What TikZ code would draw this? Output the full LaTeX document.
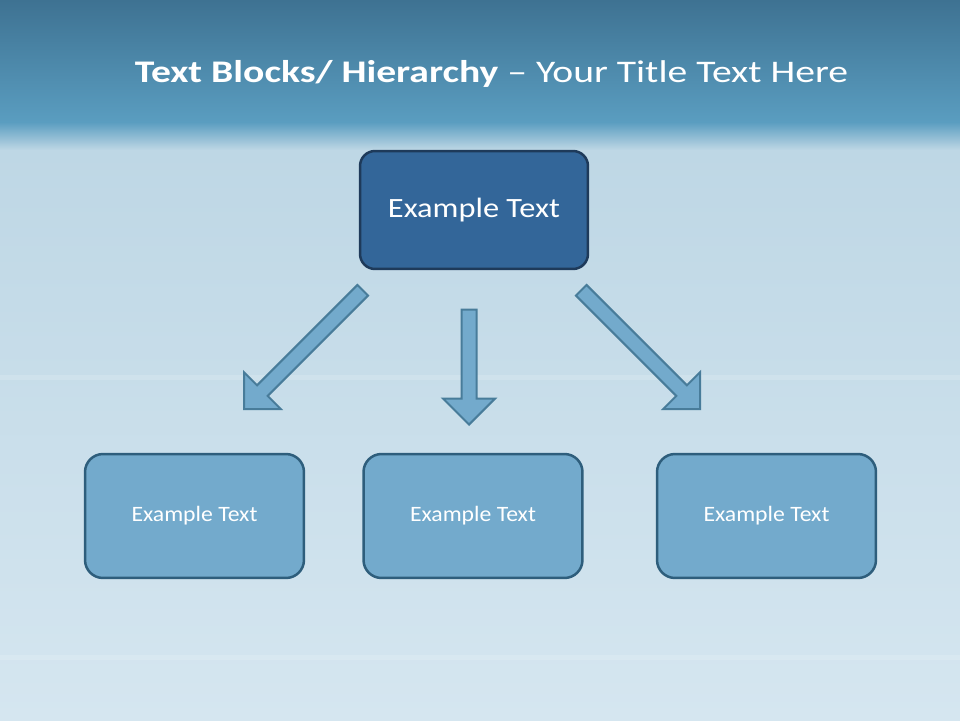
\documentclass[tikz,border=0pt]{standalone}
\usepackage{fontspec}
\setmainfont{Carlito}
\newfontfamily\titlefont{Carlito}[FakeStretch=1.26]
\newfontfamily\headfont{Carlito}[FakeStretch=1.16]
\newfontfamily\leaffont{Carlito}[FakeStretch=1.08]
\usetikzlibrary{shapes.arrows, positioning}
\definecolor{icebandtop}{RGB}{62,114,146}
\definecolor{iceband}{RGB}{90,157,192}
\definecolor{icemid}{RGB}{190,215,229}
\definecolor{icelight}{RGB}{200,222,234}
\definecolor{icepale}{RGB}{213,230,240}
\definecolor{headblue}{RGB}{51,102,153}
\definecolor{headedge}{RGB}{30,58,90}
\definecolor{leafblue}{RGB}{115,170,204}
\definecolor{leafedge}{RGB}{46,94,124}
\definecolor{arrowedge}{RGB}{72,124,154}

\begin{document}
\begin{tikzpicture}[
    x=0.02cm, y=-0.02cm,
    headbox/.style={rectangle, rounded corners=0.3cm, draw=headedge, fill=headblue,
                line width=0.05cm, minimum width=4.56cm, minimum height=2.36cm,
                align=center, text=white, font=\headfont\fontsize{15.9}{19}\selectfont},
    leafbox/.style={rectangle, rounded corners=0.36cm, draw=leafedge, fill=leafblue,
                line width=0.05cm, minimum width=4.38cm, minimum height=2.48cm,
                align=center, text=white, font=\leaffont\fontsize{12.5}{15}\selectfont},
    blockarrow/.style={single arrow, draw=arrowedge, fill=leafblue, line width=0.04cm,
                inner xsep=0pt, inner ysep=0.13cm, single arrow head extend=0.37cm,
                single arrow tip angle=90, anchor=tip}
  ]
    % background
    \useasboundingbox (0,0) rectangle (960,720);
    \fill[top color=icebandtop, bottom color=iceband] (0,0) rectangle (960,122);
    \fill[top color=iceband, bottom color=icemid] (0,122) rectangle (960,150);
    \fill[top color=icemid, bottom color=icepale] (0,150) rectangle (960,720);
    \fill[white, opacity=0.15] (0,375) rectangle (960,380);
    \fill[white, opacity=0.15] (0,655) rectangle (960,660);

    \node[text=white, anchor=base, font=\titlefont\fontsize{17.9}{22}\selectfont] (title) at (491.5,82)
        {\textbf{Text Blocks/ Hierarchy} – Your Title Text Here};

    \node[headbox] (top) at (474,210) {Example Text};
    \node[leafbox] (left)  at (194.5,516) {Example Text};
    \node[leafbox] (mid)   at (473,516)   {Example Text};
    \node[leafbox] (right) at (766.5,516) {Example Text};

    \node[blockarrow, rotate=-135, minimum height=3.36cm] (arrL) at (243,410) {};
    \node[blockarrow, rotate=-90,  minimum height=2.3cm]  (arrM) at (469,426) {};
    \node[blockarrow, rotate=-45,  minimum height=3.36cm] (arrR) at (701,410) {};
  \end{tikzpicture}
\end{document}
